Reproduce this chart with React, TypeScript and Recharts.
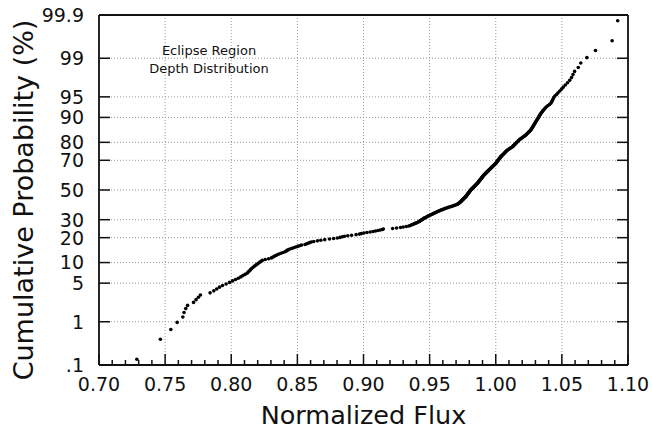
import React from "react";
import { CartesianGrid, Scatter, ScatterChart, XAxis, YAxis } from "recharts";

// sorted normalized flux sample (one value per point)
const FLUX = [
  0.7286, 0.7464, 0.7543, 0.7591, 0.7634, 0.7643, 0.7656, 0.767, 0.7715, 0.7734, 0.7752, 0.7767,
  0.784, 0.7868, 0.789, 0.7911, 0.7934, 0.7961, 0.7987, 0.801, 0.8032, 0.8053, 0.8072, 0.8088,
  0.8104, 0.812, 0.8128, 0.8136, 0.8144, 0.8152, 0.8161, 0.817, 0.8179, 0.8189, 0.8198, 0.8207,
  0.8217, 0.8226, 0.8235, 0.8257, 0.8282, 0.8304, 0.8315, 0.8326, 0.8337, 0.8348, 0.8361, 0.8376,
  0.8392, 0.8407, 0.8415, 0.8423, 0.8431, 0.8443, 0.8459, 0.8473, 0.8487, 0.8502, 0.8516, 0.8531,
  0.8557, 0.857, 0.8581, 0.8593, 0.8605, 0.8624, 0.8652, 0.8677, 0.8707, 0.8743, 0.8774, 0.8802,
  0.8823, 0.8841, 0.8856, 0.8881, 0.891, 0.8944, 0.8969, 0.8984, 0.9003, 0.9026, 0.905, 0.9072,
  0.9091, 0.911, 0.9127, 0.9143, 0.915, 0.922, 0.925, 0.928, 0.93, 0.9323, 0.9343, 0.9353,
  0.9361, 0.9371, 0.9379, 0.9387, 0.9395, 0.9403, 0.941, 0.9418, 0.9423, 0.9428, 0.9434, 0.9438,
  0.9444, 0.9449, 0.9454, 0.9459, 0.9466, 0.9473, 0.9479, 0.9485, 0.9492, 0.9498, 0.9504, 0.9512,
  0.9519, 0.9525, 0.9532, 0.9539, 0.9546, 0.9552, 0.956, 0.9566, 0.9574, 0.9581, 0.959, 0.9598,
  0.9606, 0.9614, 0.9621, 0.9632, 0.9641, 0.9651, 0.9661, 0.967, 0.9678, 0.9687, 0.9696, 0.9705,
  0.9712, 0.9716, 0.972, 0.9724, 0.9728, 0.9731, 0.9735, 0.9738, 0.9741, 0.9744, 0.9747, 0.975,
  0.9753, 0.9756, 0.9759, 0.9762, 0.9765, 0.9768, 0.9771, 0.9774, 0.9776, 0.9778, 0.9781, 0.9783,
  0.9785, 0.9787, 0.979, 0.9792, 0.9794, 0.9796, 0.9799, 0.9801, 0.9803, 0.9805, 0.9808, 0.981,
  0.9812, 0.9815, 0.9818, 0.9821, 0.9824, 0.9827, 0.983, 0.9833, 0.9836, 0.9839, 0.9842, 0.9845,
  0.9848, 0.9851, 0.9854, 0.9857, 0.986, 0.9862, 0.9865, 0.9867, 0.987, 0.9872, 0.9874, 0.9877,
  0.9879, 0.9881, 0.9884, 0.9886, 0.9889, 0.9891, 0.9894, 0.9896, 0.9898, 0.9901, 0.9903, 0.9906,
  0.9908, 0.9911, 0.9914, 0.9917, 0.992, 0.9923, 0.9926, 0.9929, 0.9932, 0.9936, 0.9939, 0.9942,
  0.9945, 0.9948, 0.9952, 0.9955, 0.9958, 0.9961, 0.9965, 0.9968, 0.9971, 0.9974, 0.9978, 0.9981,
  0.9984, 0.9988, 0.9991, 0.9994, 0.9998, 1.0001, 1.0003, 1.0006, 1.0008, 1.0011, 1.0014, 1.0016,
  1.0019, 1.0021, 1.0024, 1.0027, 1.0029, 1.0032, 1.0034, 1.0037, 1.0041, 1.0044, 1.0047, 1.0051,
  1.0055, 1.0059, 1.0063, 1.0066, 1.007, 1.0073, 1.0077, 1.0081, 1.0085, 1.0089, 1.0095, 1.0101,
  1.0106, 1.0112, 1.0118, 1.0124, 1.0129, 1.0133, 1.0137, 1.0141, 1.0145, 1.0149, 1.0153, 1.0157,
  1.0161, 1.0166, 1.017, 1.0174, 1.0179, 1.0185, 1.0191, 1.0197, 1.0203, 1.0209, 1.0216, 1.0222,
  1.0228, 1.0233, 1.0238, 1.0243, 1.0248, 1.0253, 1.0258, 1.0263, 1.0267, 1.027, 1.0273, 1.0277,
  1.028, 1.0284, 1.0287, 1.029, 1.0294, 1.0298, 1.0301, 1.0305, 1.0309, 1.0313, 1.0317, 1.0321,
  1.0325, 1.0329, 1.0333, 1.0337, 1.0342, 1.0348, 1.0354, 1.0361, 1.0368, 1.0375, 1.0384, 1.0395,
  1.0407, 1.0418, 1.0423, 1.0428, 1.0433, 1.0439, 1.0447, 1.0459, 1.0471, 1.0484, 1.0497, 1.051,
  1.0526, 1.0543, 1.0559, 1.0573, 1.0584, 1.0596, 1.0624, 1.0643, 1.0689, 1.0754, 1.088, 1.0922,
];

// cumulative probability (%) of each point above
const PCT = [
  0.14, 0.42, 0.69, 0.97, 1.25, 1.53, 1.81, 2.08, 2.36, 2.64, 2.92, 3.19, 3.47, 3.75, 4.03, 4.31, 4.58, 4.86,
  5.14, 5.42, 5.69, 5.97, 6.25, 6.53, 6.81, 7.08, 7.36, 7.64, 7.92, 8.19, 8.47, 8.75, 9.03, 9.31, 9.58, 9.86,
  10.14, 10.42, 10.69, 10.97, 11.25, 11.53, 11.81, 12.08, 12.36, 12.64, 12.92, 13.19, 13.47, 13.75, 14.03, 14.31, 14.58, 14.86,
  15.14, 15.42, 15.69, 15.97, 16.25, 16.53, 16.81, 17.08, 17.36, 17.64, 17.92, 18.19, 18.47, 18.75, 19.03, 19.31, 19.58, 19.86,
  20.14, 20.42, 20.69, 20.97, 21.25, 21.53, 21.81, 22.08, 22.36, 22.64, 22.92, 23.19, 23.47, 23.75, 24.03, 24.31, 24.58, 24.86,
  25.14, 25.42, 25.69, 25.97, 26.25, 26.53, 26.81, 27.08, 27.36, 27.64, 27.92, 28.19, 28.47, 28.75, 29.03, 29.31, 29.58, 29.86,
  30.14, 30.42, 30.69, 30.97, 31.25, 31.53, 31.81, 32.08, 32.36, 32.64, 32.92, 33.19, 33.47, 33.75, 34.03, 34.31, 34.58, 34.86,
  35.14, 35.42, 35.69, 35.97, 36.25, 36.53, 36.81, 37.08, 37.36, 37.64, 37.92, 38.19, 38.47, 38.75, 39.03, 39.31, 39.58, 39.86,
  40.14, 40.42, 40.69, 40.97, 41.25, 41.53, 41.81, 42.08, 42.36, 42.64, 42.92, 43.19, 43.47, 43.75, 44.03, 44.31, 44.58, 44.86,
  45.14, 45.42, 45.69, 45.97, 46.25, 46.53, 46.81, 47.08, 47.36, 47.64, 47.92, 48.19, 48.47, 48.75, 49.03, 49.31, 49.58, 49.86,
  50.14, 50.42, 50.69, 50.97, 51.25, 51.53, 51.81, 52.08, 52.36, 52.64, 52.92, 53.19, 53.47, 53.75, 54.03, 54.31, 54.58, 54.86,
  55.14, 55.42, 55.69, 55.97, 56.25, 56.53, 56.81, 57.08, 57.36, 57.64, 57.92, 58.19, 58.47, 58.75, 59.03, 59.31, 59.58, 59.86,
  60.14, 60.42, 60.69, 60.97, 61.25, 61.53, 61.81, 62.08, 62.36, 62.64, 62.92, 63.19, 63.47, 63.75, 64.03, 64.31, 64.58, 64.86,
  65.14, 65.42, 65.69, 65.97, 66.25, 66.53, 66.81, 67.08, 67.36, 67.64, 67.92, 68.19, 68.47, 68.75, 69.03, 69.31, 69.58, 69.86,
  70.14, 70.42, 70.69, 70.97, 71.25, 71.53, 71.81, 72.08, 72.36, 72.64, 72.92, 73.19, 73.47, 73.75, 74.03, 74.31, 74.58, 74.86,
  75.14, 75.42, 75.69, 75.97, 76.25, 76.53, 76.81, 77.08, 77.36, 77.64, 77.92, 78.19, 78.47, 78.75, 79.03, 79.31, 79.58, 79.86,
  80.14, 80.42, 80.69, 80.97, 81.25, 81.53, 81.81, 82.08, 82.36, 82.64, 82.92, 83.19, 83.47, 83.75, 84.03, 84.31, 84.58, 84.86,
  85.14, 85.42, 85.69, 85.97, 86.25, 86.53, 86.81, 87.08, 87.36, 87.64, 87.92, 88.19, 88.47, 88.75, 89.03, 89.31, 89.58, 89.86,
  90.14, 90.42, 90.69, 90.97, 91.25, 91.53, 91.81, 92.08, 92.36, 92.64, 92.92, 93.19, 93.47, 93.75, 94.03, 94.31, 94.58, 94.86,
  95.14, 95.42, 95.69, 95.97, 96.25, 96.53, 96.81, 97.08, 97.36, 97.64, 97.92, 98.19, 98.47, 98.75, 99.03, 99.31, 99.58, 99.86,
];

const X_MAJOR = [0.7, 0.75, 0.8, 0.85, 0.9, 0.95, 1.0, 1.05, 1.1];
const X_TICKS = Array.from({ length: 41 }, (_, i) => +(0.7 + i * 0.01).toFixed(2));
const Y_TICK_PCT = [0.1, 1, 5, 10, 20, 30, 50, 70, 80, 90, 95, 99, 99.9];
const Y_TICK_LABELS = [".1", "1", "5", "10", "20", "30", "50", "70", "80", "90", "95", "99", "99.9"];

// inverse normal cdf (Acklam) -> probability-paper axis
function probit(p: number): number {
  const a = [-39.69683028665376, 220.9460984245205, -275.9285104469687, 138.357751867269, -30.66479806614716, 2.506628277459239];
  const b = [-54.47609879822406, 161.5858368580409, -155.6989798598866, 66.80131188771972, -13.28068155288572];
  const c = [-0.007784894002430293, -0.3223964580411365, -2.400758277161838, -2.549732539343734, 4.374664141464968, 2.938163982698783];
  const d = [0.007784695709041462, 0.3224671290700398, 2.445134137142996, 3.754408661907416];
  const lo = 0.02425;
  if (p < lo) {
    const q = Math.sqrt(-2 * Math.log(p));
    return (((((c[0] * q + c[1]) * q + c[2]) * q + c[3]) * q + c[4]) * q + c[5]) / ((((d[0] * q + d[1]) * q + d[2]) * q + d[3]) * q + 1);
  }
  if (p > 1 - lo) {
    const q = Math.sqrt(-2 * Math.log(1 - p));
    return -(((((c[0] * q + c[1]) * q + c[2]) * q + c[3]) * q + c[4]) * q + c[5]) / ((((d[0] * q + d[1]) * q + d[2]) * q + d[3]) * q + 1);
  }
  const q = p - 0.5;
  const r = q * q;
  return ((((((a[0] * r + a[1]) * r + a[2]) * r + a[3]) * r + a[4]) * r + a[5]) * q) / (((((b[0] * r + b[1]) * r + b[2]) * r + b[3]) * r + b[4]) * r + 1);
}

const points = FLUX.map((flux, i) => ({ flux, z: probit(PCT[i] / 100) }));
const Y_TICKS = Y_TICK_PCT.map((p) => probit(p / 100));
const Z_DOMAIN = [probit(0.001), probit(0.999)];

const INK = "#111";
const FONT = '"DejaVu Sans", Verdana, sans-serif';

const isMajor = (v: number) => X_MAJOR.some((m) => Math.abs(m - v) < 1e-6);
const yLabel = (v: number) => {
  let best = 0;
  Y_TICKS.forEach((t, i) => {
    if (Math.abs(t - v) < Math.abs(Y_TICKS[best] - v)) best = i;
  });
  return Y_TICK_LABELS[best];
};

const BottomTick = ({ x, y, payload }: any) => {
  const major = isMajor(payload.value);
  return (
    <g>
      <line x1={x} y1={y} x2={x} y2={y - (major ? 11 : 5)} stroke={INK} strokeWidth={1.5} />
      {major && (
        <text x={x} y={y + 26} textAnchor="middle" fontSize={19} fill={INK} fontFamily={FONT}>
          {payload.value.toFixed(2)}
        </text>
      )}
    </g>
  );
};

const TopTick = ({ x, y, payload }: any) => (
  <line x1={x} y1={y} x2={x} y2={y + (isMajor(payload.value) ? 11 : 5)} stroke={INK} strokeWidth={1.5} />
);

const LeftTick = ({ x, y, payload }: any) => (
  <g>
    <line x1={x} y1={y} x2={x + 11} y2={y} stroke={INK} strokeWidth={1.5} />
    <text x={x - 15} y={y} dy="0.36em" textAnchor="end" fontSize={19} fill={INK} fontFamily={FONT}>
      {yLabel(payload.value)}
    </text>
  </g>
);

const RightTick = ({ x, y }: any) => (
  <line x1={x} y1={y} x2={x - 11} y2={y} stroke={INK} strokeWidth={1.5} />
);

const Dot = (props: any) => <circle cx={props.cx} cy={props.cy} r={1.8} fill="#000" />;

export default function App() {
  const axisLine = { stroke: INK, strokeWidth: 1.8 };
  return (
    <div style={{ position: "absolute", left: 0, top: 0, width: 652, height: 431, background: "#fff" }}>
      <ScatterChart width={652} height={431} margin={{ top: 0, right: 0, bottom: 0, left: 0 }}>
        <XAxis xAxisId="grid" type="number" dataKey="flux" domain={[0.7, 1.1]} ticks={X_MAJOR} allowDataOverflow hide />
        <CartesianGrid xAxisId="grid" yAxisId="l" stroke="#999" strokeDasharray="1 2" />
        <XAxis
          xAxisId="b"
          type="number"
          dataKey="flux"
          domain={[0.7, 1.1]}
          ticks={X_TICKS}
          interval={0}
          allowDataOverflow
          height={66}
          tickSize={0}
          tickMargin={0}
          tickLine={false}
          axisLine={axisLine}
          tick={BottomTick}
        />
        <XAxis
          xAxisId="t"
          orientation="top"
          type="number"
          domain={[0.7, 1.1]}
          ticks={X_TICKS}
          interval={0}
          allowDataOverflow
          height={15}
          tickSize={0}
          tickMargin={0}
          tickLine={false}
          axisLine={axisLine}
          tick={TopTick}
        />
        <YAxis
          yAxisId="l"
          type="number"
          dataKey="z"
          domain={Z_DOMAIN}
          ticks={Y_TICKS}
          interval={0}
          allowDataOverflow
          width={99}
          tickSize={0}
          tickMargin={0}
          tickLine={false}
          axisLine={axisLine}
          tick={LeftTick}
        />
        <YAxis
          yAxisId="r"
          orientation="right"
          type="number"
          domain={Z_DOMAIN}
          ticks={Y_TICKS}
          interval={0}
          allowDataOverflow
          width={24}
          tickSize={0}
          tickMargin={0}
          tickLine={false}
          axisLine={axisLine}
          tick={RightTick}
        />
        <Scatter data={points} xAxisId="b" yAxisId="l" shape={Dot} isAnimationActive={false} />
      </ScatterChart>
      <svg
        width={652}
        height={431}
        style={{ position: "absolute", left: 0, top: 0, pointerEvents: "none" }}
        fontFamily={FONT}
        fill={INK}
      >
        <text x={209} y={55} textAnchor="middle" fontSize={13}>
          Eclipse Region
        </text>
        <text x={209} y={73} textAnchor="middle" fontSize={13}>
          Depth Distribution
        </text>
        <text x={363.5} y={424} textAnchor="middle" fontSize={25.5}>
          Normalized Flux
        </text>
        <text transform="translate(33,200) rotate(-90)" textAnchor="middle" fontSize={27}>
          Cumulative Probability (%)
        </text>
      </svg>
    </div>
  );
}
